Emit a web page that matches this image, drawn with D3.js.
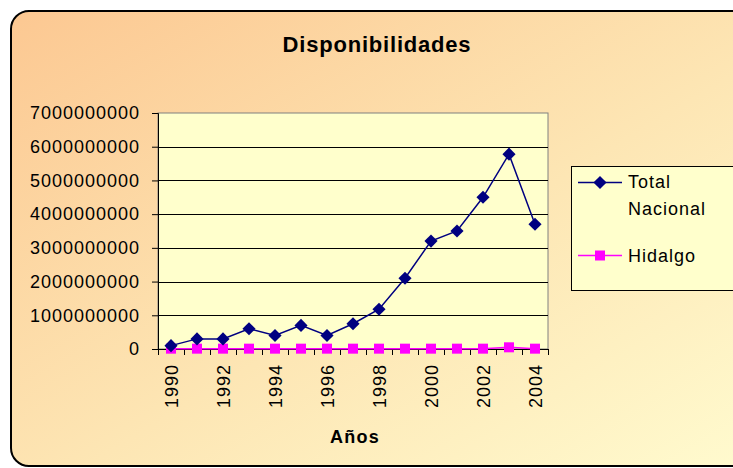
<!DOCTYPE html>
<html>
<head>
<meta charset="utf-8">
<script src="https://cdn.jsdelivr.net/npm/d3@7"></script>
<style>
  body { margin: 0; background: #fff; }
  svg { display: block; font-family: "Liberation Sans", Arial, sans-serif; }
</style>
</head>
<body>
<div id="chart"></div>
<script>
// data
const years = ["1990","1991","1992","1993","1994","1995","1996","1997","1998","1999","2000","2001","2002","2003","2004"];
const totalNacional = [100000000, 300000000, 300000000, 600000000, 400000000, 700000000, 400000000, 750000000, 1180000000, 2100000000, 3200000000, 3500000000, 4500000000, 5780000000, 3700000000];
const hidalgo = [10000000, 10000000, 10000000, 10000000, 10000000, 10000000, 10000000, 10000000, 10000000, 10000000, 10000000, 10000000, 10000000, 50000000, 10000000];
const yTicks = [0, 1000000000, 2000000000, 3000000000, 4000000000, 5000000000, 6000000000, 7000000000];
const xLabels = ["1990","1992","1994","1996","1998","2000","2002","2004"];

const W = 733, H = 468;
const plot = { left: 158, right: 548, top: 113, bottom: 349 };

const svg = d3.select("#chart").append("svg")
  .attr("width", W)
  .attr("height", H);

// background gradient
const defs = svg.append("defs");
const grad = defs.append("linearGradient")
  .attr("id", "bg")
  .attr("x1", "0%").attr("y1", "0%")
  .attr("x2", "100%").attr("y2", "100%");
grad.append("stop").attr("offset", "0%").attr("stop-color", "#fcc892");
grad.append("stop").attr("offset", "55%").attr("stop-color", "#fde6b4");
grad.append("stop").attr("offset", "100%").attr("stop-color", "#fffbcf");

svg.append("rect")
  .attr("x", 11).attr("y", 11)
  .attr("width", W + 20).attr("height", 455)
  .attr("rx", 18)
  .attr("fill", "url(#bg)")
  .attr("stroke", "#000")
  .attr("stroke-width", 2);

// title
svg.append("text")
  .attr("x", 377).attr("y", 52)
  .attr("text-anchor", "middle")
  .attr("font-size", 22)
  .attr("font-weight", "bold")
  .attr("letter-spacing", 0.8)
  .text("Disponibilidades");

// scales
const x = d3.scaleBand().domain(years).range([plot.left, plot.right]);
const y = d3.scaleLinear().domain([0, 7000000000]).range([plot.bottom, plot.top]);

// plot area
svg.append("rect")
  .attr("x", plot.left).attr("y", plot.top)
  .attr("width", plot.right - plot.left)
  .attr("height", plot.bottom - plot.top)
  .attr("fill", "#ffffcc")
  .attr("stroke", "#808080")
  .attr("stroke-width", 1);

// gridlines
svg.append("g")
  .selectAll("line")
  .data(yTicks.filter(d => d > 0 && d < 7000000000))
  .join("line")
  .attr("x1", plot.left).attr("x2", plot.right)
  .attr("y1", d => Math.round(y(d)) + 0.5)
  .attr("y2", d => Math.round(y(d)) + 0.5)
  .attr("stroke", "#000")
  .attr("stroke-width", 1);

// y axis
const yAxis = svg.append("g")
  .attr("transform", `translate(${plot.left},0)`)
  .call(d3.axisLeft(y).tickValues(yTicks).tickSize(6).tickPadding(12).tickFormat(d3.format("d")));
yAxis.select(".domain").attr("stroke", "#000");
yAxis.selectAll("text")
  .attr("font-size", 18)
  .attr("letter-spacing", 1)
  .attr("fill", "#000")
  .attr("font-family", "Liberation Sans, Arial, sans-serif");

// x axis: ticks between categories
const xAxisG = svg.append("g");
xAxisG.append("line")
  .attr("x1", plot.left).attr("x2", plot.right)
  .attr("y1", plot.bottom + 0.5).attr("y2", plot.bottom + 0.5)
  .attr("stroke", "#000");
const edges = years.map(d => x(d)).concat([x.range()[1]]);
xAxisG.selectAll("line.tk")
  .data(edges)
  .join("line")
  .attr("class", "tk")
  .attr("x1", d => Math.round(d) + 0.5).attr("x2", d => Math.round(d) + 0.5)
  .attr("y1", plot.bottom).attr("y2", plot.bottom + 6)
  .attr("stroke", "#000");
xAxisG.selectAll("text")
  .data(xLabels)
  .join("text")
  .attr("transform", d => `translate(${x(d) + x.bandwidth() / 2 + 7},${plot.bottom + 15}) rotate(-90)`)
  .attr("text-anchor", "end")
  .attr("font-size", 18)
  .attr("letter-spacing", 1)
  .text(d => d);

// x title
svg.append("text")
  .attr("x", 355).attr("y", 443)
  .attr("text-anchor", "middle")
  .attr("font-size", 18)
  .attr("font-weight", "bold")
  .attr("letter-spacing", 1.2)
  .text("Años");

// series
const line = d3.line()
  .x((d, i) => x(years[i]) + x.bandwidth() / 2)
  .y(d => y(d));

svg.append("path")
  .datum(hidalgo)
  .attr("d", line)
  .attr("fill", "none")
  .attr("stroke", "#ff00ff")
  .attr("stroke-width", 1.5);

svg.append("g")
  .selectAll("rect")
  .data(hidalgo)
  .join("rect")
  .attr("x", (d, i) => x(years[i]) + x.bandwidth() / 2 - 5)
  .attr("y", d => y(d) - 5)
  .attr("width", 10).attr("height", 10)
  .attr("fill", "#ff00ff");

svg.append("path")
  .datum(totalNacional)
  .attr("d", line)
  .attr("fill", "none")
  .attr("stroke", "#000080")
  .attr("stroke-width", 1.5);

const diamond = d3.symbol().type(d3.symbolDiamond2).size(110);
svg.append("g")
  .selectAll("path")
  .data(totalNacional)
  .join("path")
  .attr("transform", (d, i) => `translate(${x(years[i]) + x.bandwidth() / 2},${y(d)})`)
  .attr("d", diamond)
  .attr("fill", "#000080");

// legend
const lg = svg.append("g");
lg.append("rect")
  .attr("x", 571.5).attr("y", 166.5)
  .attr("width", 180).attr("height", 124)
  .attr("fill", "#ffffcc")
  .attr("stroke", "#000")
  .attr("stroke-width", 1);

lg.append("line")
  .attr("x1", 578).attr("x2", 622).attr("y1", 182.5).attr("y2", 182.5)
  .attr("stroke", "#000080").attr("stroke-width", 1.5);
lg.append("path")
  .attr("transform", "translate(600,182.5)")
  .attr("d", diamond)
  .attr("fill", "#000080");
lg.append("text").attr("x", 628).attr("y", 188).attr("font-size", 18).attr("letter-spacing", 1).text("Total");
lg.append("text").attr("x", 628).attr("y", 215).attr("font-size", 18).attr("letter-spacing", 1).text("Nacional");

lg.append("line")
  .attr("x1", 578).attr("x2", 622).attr("y1", 255.5).attr("y2", 255.5)
  .attr("stroke", "#ff00ff").attr("stroke-width", 1.5);
lg.append("rect")
  .attr("x", 595).attr("y", 250.5).attr("width", 10).attr("height", 10)
  .attr("fill", "#ff00ff");
lg.append("text").attr("x", 628).attr("y", 262).attr("font-size", 18).attr("letter-spacing", 1).text("Hidalgo");
</script>
</body>
</html>
